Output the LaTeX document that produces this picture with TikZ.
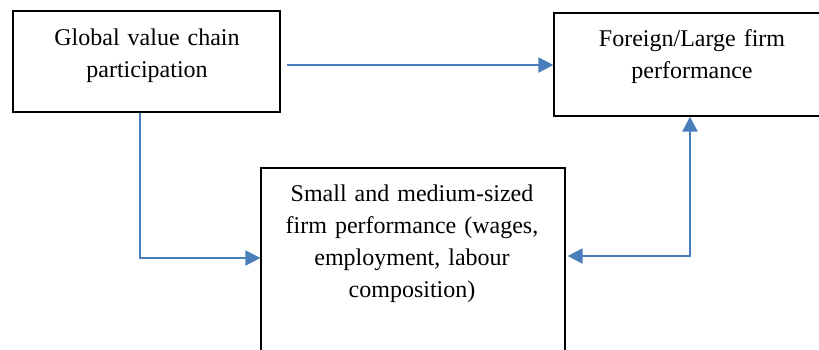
\documentclass[tikz,border=0pt]{standalone}
\usepackage{fontspec}
\setmainfont{Liberation Serif}
\usetikzlibrary{arrows.meta,fit}
\definecolor{arrblue}{HTML}{4A7EBB}
\tikzset{
  boxnode/.style={draw=black, line width=0.6pt, inner sep=0pt, fit={#1}},
  txtnode/.style={inner sep=0pt, text width=150pt, align=center, anchor=base,
    font=\fontsize{12pt}{16pt}\selectfont},
  arr/.style={draw=arrblue, line width=0.95pt, -{Triangle[length=7.5pt,width=7.5pt]}},
  dblarr/.style={draw=arrblue, line width=0.95pt, {Triangle[length=7.5pt,width=7.5pt]}-{Triangle[length=7.5pt,width=7.5pt]}}
}
\begin{document}
\begin{tikzpicture}[x=0.5pt,y=-0.5pt]
\clip (0,0) rectangle (819,349);
\fill[white] (0,0) rectangle (819,349);
% boxes
\node[boxnode={(13,11)(280,112)}] (A) {};
\node[boxnode={(554,13)(830,116)}] (B) {};
\node[boxnode={(261,168)(565,370)}] (C) {};
% texts
\node[txtnode] (At) at (147,45) {Global value chain\\participation};
\node[txtnode] (Bt) at (692,46) {Foreign/Large firm\\performance};
\node[txtnode] (Ct) at (412,201) {Small and medium-sized\\firm performance (wages,\\employment, labour\\composition)};
% connector points
\coordinate (s1) at (287,65);
\coordinate (k1) at (140,258);
\coordinate (k2) at (690,256);
% connectors
\draw[arr] (s1) -- (B.west |- s1);
\draw[arr] (A.south -| k1) |- (C.west |- k1);
\draw[dblarr] ([xshift=1pt]C.east |- k2) -| (B.south -| k2);
\end{tikzpicture}
\end{document}
